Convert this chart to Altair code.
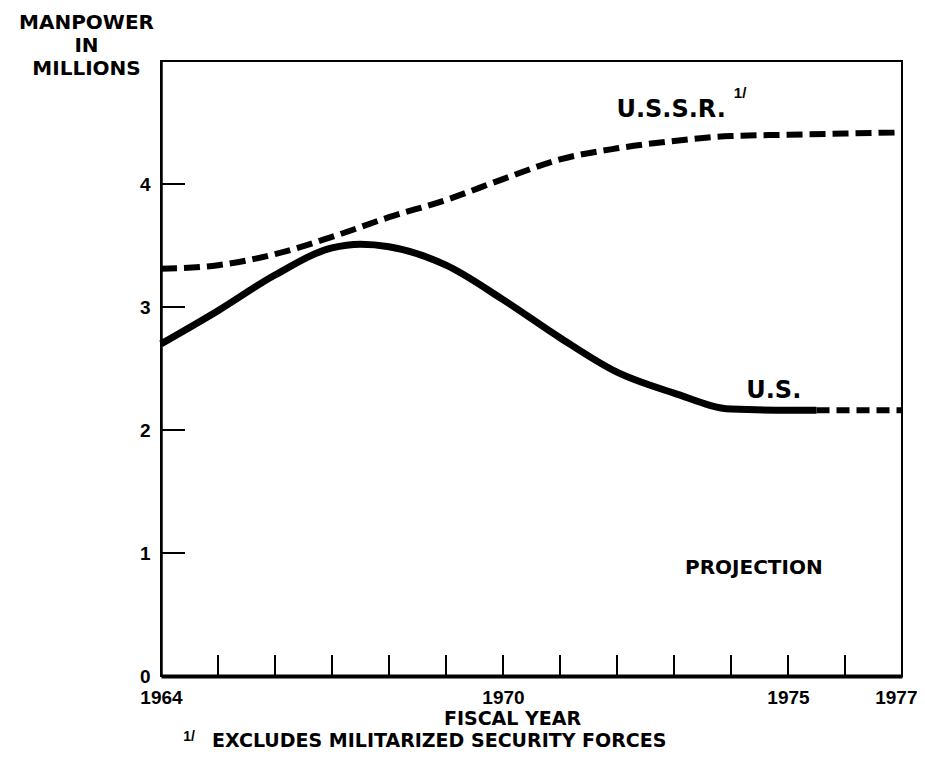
import altair as alt
import pandas as pd

# ---- data ----
ussr_years = [1964, 1965, 1966, 1967, 1968, 1969, 1970, 1971, 1972, 1973, 1974, 1975, 1976, 1977]
ussr_values = [3.31, 3.34, 3.43, 3.57, 3.73, 3.87, 4.04, 4.20, 4.29, 4.35, 4.39, 4.40, 4.41, 4.42]

us_years = [1964, 1965, 1966, 1967, 1967.5, 1968, 1969, 1970, 1971, 1972, 1973, 1974, 1975, 1975.5]
us_values = [2.70, 2.97, 3.26, 3.48, 3.51, 3.49, 3.34, 3.06, 2.75, 2.47, 2.30, 2.17, 2.16, 2.16]

proj_years = [1975.5, 1976, 1977]
proj_values = [2.16, 2.16, 2.16]

x_tick_years = list(range(1965, 1977))
y_tick_values = [1, 2, 3, 4]
x_label_years = [1964, 1970, 1975, 1977]
y_label_values = [0, 1, 2, 3, 4]

label_text = ["U.S.S.R.", "U.S.", "PROJECTION"]
label_years = [1972.95, 1974.75, 1974.4]
label_values = [4.545, 2.26, 0.83]
label_sizes = [24, 24, 20]

W, H = 741, 615
BOLD_NUM = "Liberation Sans"
BOLD_TXT = "DejaVu Sans"

x_scale = alt.Scale(domain=[1964, 1977], nice=False, zero=False)
y_scale = alt.Scale(domain=[0, 5], nice=False)

last_label = "datum.value == 1977"

X = alt.X(
    "year:Q",
    scale=x_scale,
    axis=alt.Axis(
        values=x_label_years, format="d", ticks=False, grid=False,
        labelFont=BOLD_NUM, labelFontWeight="bold", labelFontSize=19,
        labelColor="black", labelPadding=12, labelFlush=False, labelOverlap=False,
        labelAlign={"condition": {"test": last_label, "value": "right"}, "value": "center"},
        labelOffset={"condition": {"test": last_label, "value": 15}, "value": 0},
        domainColor="black", domainWidth=4,
        title="FISCAL YEAR", titleFont=BOLD_TXT, titleFontSize=19,
        titleFontWeight="bold", titleColor="black", titleX=351, titleY=48,
        titleAlign="center", titleBaseline="alphabetic",
    ),
)
Y = alt.Y(
    "value:Q",
    scale=y_scale,
    axis=alt.Axis(
        values=y_label_values, format="d", ticks=False, grid=False,
        labelFont=BOLD_NUM, labelFontWeight="bold", labelFontSize=19,
        labelColor="black", labelPadding=11, labelFlush=False,
        domainColor="black", domainWidth=2.5,
        title=["MANPOWER", "IN", "MILLIONS"], titleFont=BOLD_TXT,
        titleFontSize=20, titleFontWeight="bold", titleColor="black",
        titleAngle=0, titleX=-75, titleY=-33, titleAlign="center",
        titleBaseline="alphabetic", titleLineHeight=23,
    ),
)

ussr_df = pd.DataFrame({"year": ussr_years, "value": ussr_values})
us_df = pd.DataFrame({"year": us_years, "value": us_values})
proj_df = pd.DataFrame({"year": proj_years, "value": proj_values})
xt_df = pd.DataFrame({"year": x_tick_years})
yt_df = pd.DataFrame({"value": y_tick_values})

ussr_line = alt.Chart(ussr_df).mark_line(
    interpolate="monotone", color="black", strokeWidth=6, strokeDash=[16, 7], strokeCap="butt"
).encode(x=X, y=Y)

us_line = alt.Chart(us_df).mark_line(
    interpolate="monotone", color="black", strokeWidth=7
).encode(x=X, y=Y)

proj_line = alt.Chart(proj_df).mark_line(
    color="black", strokeWidth=6, strokeDash=[13, 7], strokeCap="butt"
).encode(x=X, y=Y)

x_ticks = alt.Chart(xt_df).mark_rule(color="black", strokeWidth=2).encode(
    x=X, y=alt.value(H), y2=alt.value(H - 21)
)
y_ticks = alt.Chart(yt_df).mark_rule(color="black", strokeWidth=2).encode(
    y=Y, x=alt.value(0), x2=alt.value(24)
)

lab_layers = []
for t, yr, v, s in zip(label_text, label_years, label_values, label_sizes):
    d = pd.DataFrame({"year": [yr], "value": [v], "label": [t]})
    lab_layers.append(
        alt.Chart(d).mark_text(
            font=BOLD_TXT, fontWeight="bold", fontSize=s, color="black",
            align="center", baseline="alphabetic",
        ).encode(x=X, y=Y, text="label:N")
    )

ussr_note = alt.Chart(pd.DataFrame({"year": [1974.16], "value": [4.70], "label": ["1/"]})).mark_text(
    font=BOLD_NUM, fontWeight="bold", fontSize=15, color="black", align="center", baseline="alphabetic"
).encode(x=X, y=Y, text="label:N")

foot_mark = alt.Chart(pd.DataFrame({"label": ["1/"]})).mark_text(
    font=BOLD_NUM, fontWeight="bold", fontSize=14, color="black", align="center", baseline="alphabetic"
).encode(x=alt.value(28), y=alt.value(680), text="label:N")

foot_text = alt.Chart(pd.DataFrame({"label": ["EXCLUDES MILITARIZED SECURITY FORCES"]})).mark_text(
    font=BOLD_TXT, fontWeight="bold", fontSize=19, color="black", align="left", baseline="alphabetic"
).encode(x=alt.value(51), y=alt.value(686), text="label:N")

chart = alt.layer(
    ussr_line, us_line, proj_line, x_ticks, y_ticks, *lab_layers, ussr_note, foot_mark, foot_text
).properties(
    width=W, height=H,
    padding={"left": 153, "top": 53, "right": 15, "bottom": 76},
    autosize=alt.AutoSizeParams(type="none"),
    background="white",
).configure_view(stroke="black", strokeWidth=2)

chart.save("out.html", embed_options={"renderer": "svg", "actions": False})
